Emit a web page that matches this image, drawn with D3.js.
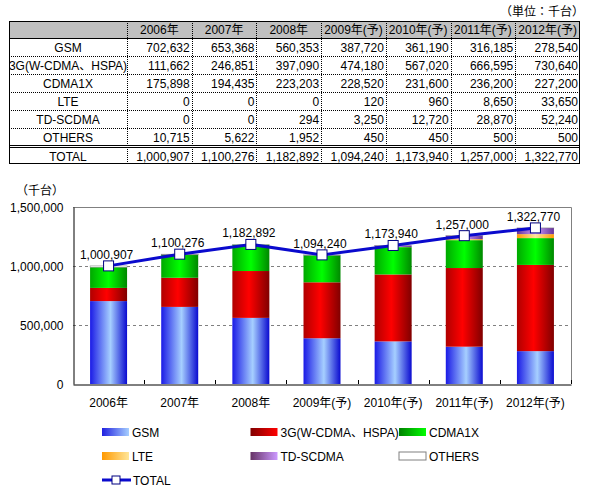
<!DOCTYPE html>
<html><head><meta charset="utf-8">
<script src="https://cdn.jsdelivr.net/npm/d3@7"></script>
<style>
body{margin:0;background:#fff}
svg{display:block}
text{font-family:"Liberation Sans","Noto Sans CJK JP",sans-serif;font-size:12px;fill:#000}
.num{font-family:"Liberation Sans Narrow","Liberation Sans","Noto Sans CJK JP",sans-serif}
</style></head><body>
<svg id="c" width="594" height="495"></svg>
<script>
const years = ["2006年","2007年","2008年","2009年(予)","2010年(予)","2011年(予)","2012年(予)"];
const seriesNames = ["GSM","3G(W-CDMA、HSPA)","CDMA1X","LTE","TD-SCDMA","OTHERS"];
const gsm    = [702632,653368,560353,387720,361190,316185,278540];
const w3g    = [111662,246851,397090,474180,567020,666595,730640];
const cdma   = [175898,194435,223203,228520,231600,236200,227200];
const lte    = [0,0,0,120,960,8650,33650];
const td     = [0,0,294,3250,12720,28870,52240];
const others = [10715,5622,1952,450,450,500,500];
const total  = [1000907,1100276,1182892,1094240,1173940,1257000,1322770];
const yTicks = [0,500000,1000000,1500000];
const totalName = "TOTAL";

const seriesVals = [gsm,w3g,cdma,lte,td,others];
const fmt = d3.format(",");
const svg = d3.select("#c");

// gradients
const grads = [
  {id:"g0", bar:[["0%","#1a1ae6"],["55%","#a6cfff"],["100%","#0a0ad0"]], leg:[["0%","#2020e0"],["100%","#a6cfff"]]},
  {id:"g1", bar:[["0%","#b00000"],["45%","#ff0000"],["100%","#800000"]], leg:[["0%","#800000"],["100%","#ff0000"]]},
  {id:"g2", bar:[["0%","#00a800"],["50%","#00ff00"],["100%","#008800"]], leg:[["0%","#008000"],["100%","#00ff00"]]},
  {id:"g3", bar:[["0%","#ff9900"],["50%","#ffe699"],["100%","#ff9900"]], leg:[["0%","#ff9900"],["100%","#ffe699"]]},
  {id:"g4", bar:[["0%","#663399"],["50%","#cc99ff"],["100%","#663399"]], leg:[["0%","#663366"],["100%","#cc99ff"]]},
];
const defs = svg.append("defs");
grads.forEach(g=>{
  const a = defs.append("linearGradient").attr("id",g.id).attr("x1",0).attr("x2",1).attr("y1",0).attr("y2",0);
  g.bar.forEach(s=>a.append("stop").attr("offset",s[0]).attr("stop-color",s[1]));
  const b = defs.append("linearGradient").attr("id",g.id+"l").attr("x1",0).attr("x2",1).attr("y1",0).attr("y2",0);
  g.leg.forEach(s=>b.append("stop").attr("offset",s[0]).attr("stop-color",s[1]));
});
const fills = ["url(#g0)","url(#g1)","url(#g2)","url(#g3)","url(#g4)","#ffffff"];
const legFills = ["url(#g0l)","url(#g1l)","url(#g2l)","url(#g3l)","url(#g4l)","#ffffff"];

// ---------- TABLE ----------
const tL=9, tR=580, firstColR=127, tTop=21, headH=17, rowH=18;
const colX = d3.scaleBand().domain(years).range([firstColR,tR]);
const rowY = d3.scaleBand().domain(seriesNames).range([tTop+headH, tTop+headH+rowH*seriesNames.length]);
const othersBottom = tTop+headH+rowH*seriesNames.length;
const totTop = othersBottom+2, totBot = totTop+16;
const tbl = svg.append("g");
tbl.append("rect").attr("x",tL).attr("y",tTop).attr("width",tR-tL).attr("height",headH).attr("fill","#c0c0c0");
// dotted horizontal lines
seriesNames.slice(0,-1).forEach(n=>{
  tbl.append("line").attr("x1",tL).attr("x2",tR).attr("y1",rowY(n)+rowH+0.5).attr("y2",rowY(n)+rowH+0.5)
    .attr("stroke","#000").attr("stroke-dasharray","1,1");
});
// vertical dotted lines
[firstColR].concat(years.slice(1).map(y=>colX(y))).forEach(x=>{
  tbl.append("line").attr("x1",Math.round(x)+0.5).attr("x2",Math.round(x)+0.5).attr("y1",tTop).attr("y2",totBot)
    .attr("stroke","#000").attr("stroke-dasharray","1,1");
});
// solid lines
tbl.append("line").attr("x1",tL).attr("x2",tR).attr("y1",tTop+headH+0.5).attr("y2",tTop+headH+0.5).attr("stroke","#000");
tbl.append("line").attr("x1",tL).attr("x2",tR).attr("y1",othersBottom-0.5).attr("y2",othersBottom-0.5).attr("stroke","#000");
tbl.append("line").attr("x1",tL).attr("x2",tR).attr("y1",othersBottom+1.5).attr("y2",othersBottom+1.5).attr("stroke","#000");
tbl.append("rect").attr("x",tL+0.5).attr("y",tTop+0.5).attr("width",tR-tL-1).attr("height",totBot-tTop-1)
  .attr("fill","none").attr("stroke","#000");
// header text
years.forEach(y=>{
  tbl.append("text").attr("class","num").attr("x",colX(y)+colX.bandwidth()/2).attr("y",tTop+13).attr("text-anchor","middle").text(y);
});
seriesNames.forEach((n,i)=>{
  tbl.append("text").attr("x",(tL+firstColR)/2).attr("y",rowY(n)+14).attr("text-anchor","middle").text(n);
  years.forEach((y,j)=>{
    tbl.append("text").attr("class","num").attr("x",colX(y)+colX.bandwidth()-2).attr("y",rowY(n)+14)
      .attr("text-anchor","end").text(fmt(seriesVals[i][j]));
  });
});
tbl.append("text").attr("x",(tL+firstColR)/2).attr("y",totTop+13).attr("text-anchor","middle").text(totalName);
years.forEach((y,j)=>{
  tbl.append("text").attr("class","num").attr("x",colX(y)+colX.bandwidth()-2).attr("y",totTop+13)
    .attr("text-anchor","end").text(fmt(total[j]));
});
svg.append("text").attr("x",584).attr("y",16).attr("text-anchor","end").text("（単位：千台）");

// ---------- CHART ----------
const pL=73, pR=571, pT=207, pB=384;
const x = d3.scaleBand().domain(years).range([pL,pR]);
const y = d3.scaleLinear().domain([0,1500000]).range([pB,pT]);
const barW = x.bandwidth()*0.52;

// gridlines
[500000,1000000].forEach(v=>{
  svg.append("line").attr("x1",pL).attr("x2",pR).attr("y1",Math.round(y(v))+0.5).attr("y2",Math.round(y(v))+0.5)
    .attr("stroke","#808080").attr("stroke-dasharray","3,3");
});
// plot border top/right
svg.append("path").attr("d",`M${pL},${pT+0.5}H${pR+0.5}V${pB}`).attr("fill","none").attr("stroke","#808080");

// stacked bars
const rows = years.map((yr,j)=>{const o={year:yr}; seriesNames.forEach((n,i)=>o[n]=seriesVals[i][j]); return o;});
const stack = d3.stack().keys(seriesNames)(rows);
stack.forEach((layer,i)=>{
  svg.append("g").selectAll("rect").data(layer).join("rect")
    .attr("x",d=>x(d.data.year)+(x.bandwidth()-barW)/2)
    .attr("y",d=>y(d[1]))
    .attr("width",barW)
    .attr("height",d=>Math.max(0,y(d[0])-y(d[1])))
    .attr("fill",fills[i])
    .attr("stroke",i===5?"#808080":"none").attr("stroke-width",i===5?0.5:0);
});

// axes
const yAxis = d3.axisLeft(y).tickValues(yTicks).tickFormat(fmt).tickSize(0).tickPadding(10);
const ga = svg.append("g").attr("transform",`translate(${pL+0.5},0)`).call(yAxis);
ga.select(".domain").attr("stroke","#000");
ga.selectAll("text").attr("class","num").style("font-size","12px").style("font-family",null).attr("dy","0.35em");
const xAxis = d3.axisBottom(x).tickSize(0).tickPadding(14);
const gx = svg.append("g").attr("transform",`translate(0,${pB+0.5})`).call(xAxis);
gx.select(".domain").attr("stroke","#000");
gx.selectAll("text").attr("class","num").style("font-size","12px").style("font-family",null);
// category boundary ticks
years.slice(1).concat([null]).forEach((yr,i)=>{
  const bx = yr? x(yr) : pR;
  svg.append("line").attr("x1",Math.round(bx)+0.5).attr("x2",Math.round(bx)+0.5).attr("y1",pB-4).attr("y2",pB).attr("stroke","#000");
});
svg.append("text").attr("x",16).attr("y",195).text("（千台）");

// total line
const cx = d=>x(d)+x.bandwidth()/2;
const line = d3.line().x((d,i)=>cx(years[i])).y(d=>y(d));
svg.append("path").datum(total).attr("d",line).attr("fill","none").attr("stroke","#0a0acd").attr("stroke-width",3);
svg.append("g").selectAll("rect").data(total).join("rect")
  .attr("x",(d,i)=>cx(years[i])-5).attr("y",d=>y(d)-5).attr("width",10).attr("height",10)
  .attr("fill","#fff").attr("stroke","#000080").attr("stroke-width",1);
svg.append("g").selectAll("text").data(total).join("text").attr("class","num")
  .attr("x",(d,i)=>cx(years[i])-2).attr("y",d=>y(d)-7).attr("text-anchor","middle").text(d=>fmt(d));

// legend
const lg = svg.append("g");
const legX = d3.scalePoint().domain([0,1,2]).range([102,399]);
const legY = d3.scalePoint().domain([0,1,2]).range([432,480]);
seriesNames.forEach((n,i)=>{
  const gx0 = legX(i%3), gy0 = legY(Math.floor(i/3));
  lg.append("rect").attr("x",gx0).attr("y",gy0-4).attr("width",27).attr("height",8).attr("fill",legFills[i])
    .attr("stroke",i===5?"#808080":"none");
  lg.append("text").attr("x",gx0+30).attr("y",gy0+5).text(n);
});
{
  const gx0 = legX(0), gy0 = legY(2);
  lg.append("line").attr("x1",gx0).attr("x2",gx0+29).attr("y1",gy0).attr("y2",gy0).attr("stroke","#0a0acd").attr("stroke-width",3);
  lg.append("rect").attr("x",gx0+10).attr("y",gy0-4).attr("width",8).attr("height",8).attr("fill","#fff").attr("stroke","#000080");
  lg.append("text").attr("x",gx0+31).attr("y",gy0+5).text(totalName);
}
</script></body></html>
